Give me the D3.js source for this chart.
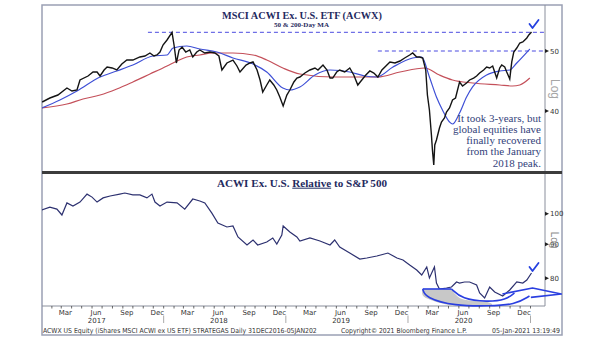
<!DOCTYPE html>
<html><head><meta charset="utf-8">
<script src="https://cdn.jsdelivr.net/npm/d3@7"></script>
<style>
html,body{margin:0;padding:0;background:#fff;}
svg{display:block;}
</style></head>
<body>
<svg id="chart" width="605" height="341"></svg>
<script>
// ACWX price (closes, sampled)
const acwxDates = ["2017-01-03","2017-01-26","2017-02-19","2017-03-18","2017-04-02","2017-04-17","2017-04-26","2017-05-20","2017-06-04","2017-06-16","2017-06-25","2017-07-07","2017-07-16","2017-07-31","2017-08-14","2017-08-29","2017-09-13","2017-10-01","2017-10-22","2017-11-06","2017-11-21","2017-12-03","2017-12-12","2017-12-21","2017-12-30","2018-01-11","2018-01-26","2018-02-01","2018-02-08","2018-02-16","2018-02-25","2018-03-08","2018-03-20","2018-03-29","2018-04-10","2018-04-19","2018-05-04","2018-05-19","2018-06-03","2018-06-15","2018-06-24","2018-07-09","2018-07-27","2018-08-08","2018-08-17","2018-09-04","2018-09-16","2018-09-25","2018-10-07","2018-10-16","2018-10-24","2018-11-05","2018-11-14","2018-11-26","2018-12-05","2018-12-14","2018-12-24","2019-01-04","2019-01-13","2019-01-25","2019-02-03","2019-02-12","2019-02-27","2019-03-14","2019-03-29","2019-04-07","2019-04-22","2019-05-04","2019-05-13","2019-05-21","2019-06-02","2019-06-11","2019-06-26","2019-07-11","2019-07-23","2019-08-04","2019-08-16","2019-08-28","2019-09-09","2019-09-21","2019-10-03","2019-10-15","2019-10-27","2019-11-08","2019-11-23","2019-12-08","2019-12-22","2020-01-06","2020-01-15","2020-01-27","2020-02-05","2020-02-14","2020-02-23","2020-02-28","2020-03-05","2020-03-11","2020-03-14","2020-03-18","2020-03-21","2020-03-26","2020-04-04","2020-04-10","2020-04-19","2020-04-25","2020-05-04","2020-05-13","2020-05-22","2020-06-03","2020-06-12","2020-06-24","2020-07-03","2020-07-15","2020-07-24","2020-08-02","2020-08-14","2020-08-23","2020-09-01","2020-09-10","2020-09-16","2020-09-22","2020-10-01","2020-10-07","2020-10-16","2020-10-22","2020-10-31","2020-11-06","2020-11-12","2020-11-21","2020-11-30","2020-12-09","2020-12-15","2020-12-21","2020-12-27","2021-01-04"];
const acwxClose = [41.36,41.98,42.45,43.57,43.09,43.25,44.89,45.56,46.24,46.24,45.56,46.59,47.11,46.94,46.59,47.64,48.35,48.35,48.90,49.08,49.63,49.08,49.26,49.81,51.13,52.09,53.6,51.13,47.82,50.19,50.75,49.81,50.19,48.90,49.81,50.19,49.63,49.81,49.63,49.08,46.59,47.82,48.35,47.29,46.24,47.46,47.82,48.00,46.59,44.89,42.93,44.06,44.89,44.06,43.25,42.14,40.75,42.45,43.25,44.56,45.22,45.39,46.07,46.59,46.94,46.59,47.46,46.59,45.22,45.22,46.24,46.59,46.24,46.94,45.73,44.06,44.89,45.73,46.42,46.07,45.39,46.59,47.29,48.00,47.82,48.17,48.72,49.26,49.63,48.90,48.90,48.72,46.59,42.45,40.15,36.59,34.60,32.72,35.25,35.91,37.55,38.40,38.97,39.85,40.45,41.67,41.98,44.56,43.90,44.39,44.89,45.22,45.56,46.07,46.59,47.11,46.94,47.29,46.24,45.22,46.94,47.46,47.11,46.24,45.06,48.00,49.81,50.56,51.51,51.70,52.09,52.48,53.07,53.66];

// 50-day moving average
const ma50Dates = ["2017-01-02","2017-02-25","2017-04-17","2017-06-25","2017-08-14","2017-10-01","2017-11-30","2018-01-11","2018-01-29","2018-03-11","2018-04-19","2018-06-09","2018-07-27","2018-09-25","2018-11-05","2018-12-23","2019-01-13","2019-02-12","2019-03-29","2019-05-13","2019-07-11","2019-08-25","2019-09-30","2019-11-17","2020-01-15","2020-02-11","2020-03-05","2020-03-26","2020-04-13","2020-05-04","2020-05-13","2020-06-03","2020-06-24","2020-07-12","2020-08-23","2020-10-01","2020-10-31","2020-11-21","2020-12-30"];
const ma50Values = [40.45,41.67,43.09,45.39,46.42,47.46,49.08,49.26,50.56,50.94,50.37,49.81,48.72,47.64,46.24,43.57,43.25,43.74,45.73,46.59,46.24,45.56,45.39,47.11,48.72,48.90,45.39,42.14,40.15,38.40,38.11,39.70,42.14,43.74,45.73,46.42,46.59,47.82,50.37];

// 200-day moving average
const ma200Dates = ["2017-01-02","2017-03-18","2017-05-05","2017-06-25","2017-08-14","2017-10-01","2017-11-21","2018-01-11","2018-02-10","2018-03-11","2018-04-19","2018-05-28","2018-07-27","2018-09-25","2018-11-05","2018-12-23","2019-02-12","2019-05-22","2019-08-31","2019-10-03","2019-12-08","2020-02-20","2020-04-04","2020-05-13","2020-07-12","2020-10-01","2020-11-08","2020-11-30","2020-12-30"];
const ma200Values = [40.45,41.05,41.82,42.45,43.41,44.56,45.90,47.29,48.17,48.90,49.26,49.63,49.63,49.26,48.35,46.94,45.90,45.39,45.39,45.39,46.24,46.94,45.73,44.89,44.39,44.06,43.90,44.06,45.22];

// ACWX relative to S&P 500
const relDates = ["2017-01-02","2017-01-26","2017-02-16","2017-03-03","2017-03-18","2017-04-05","2017-04-26","2017-05-17","2017-06-01","2017-06-16","2017-07-04","2017-07-25","2017-08-23","2017-09-07","2017-10-01","2017-10-22","2017-11-12","2017-11-27","2017-12-06","2017-12-21","2018-01-11","2018-02-10","2018-03-05","2018-03-29","2018-04-19","2018-05-04","2018-05-25","2018-06-12","2018-07-09","2018-07-27","2018-08-11","2018-09-07","2018-09-25","2018-10-09","2018-11-05","2018-11-23","2018-12-05","2018-12-20","2018-12-24","2019-01-13","2019-02-03","2019-02-12","2019-03-14","2019-04-13","2019-05-13","2019-05-27","2019-06-11","2019-07-11","2019-08-10","2019-08-31","2019-09-30","2019-11-02","2019-11-29","2019-12-17","2020-01-06","2020-01-27","2020-02-11","2020-02-26","2020-03-05","2020-03-20","2020-03-26","2020-04-04","2020-04-25","2020-05-10","2020-05-25","2020-06-03","2020-06-18","2020-07-03","2020-07-24","2020-08-02","2020-08-17","2020-09-01","2020-09-16","2020-10-10","2020-10-31","2020-11-21","2020-12-09","2020-12-21","2021-01-04"];
const relValues = [101.3,102.3,101.6,99.55,103.8,102.7,104.1,107.0,105.9,104.1,105.6,106.3,107.0,107.4,106.7,106.7,105.6,107.0,104.1,102.7,104.1,103.8,101.6,105.2,104.5,103.8,100.2,96.84,95.51,95.84,92.27,89.75,91.32,89.75,90.69,91.95,90.06,92.91,95.84,93.87,92.27,91.00,91.95,91.00,89.75,91.32,89.14,87.30,85.51,85.81,86.40,87.30,85.81,85.22,83.76,82.33,80.92,83.19,80.09,83.19,78.71,77.10,77.37,77.63,78.99,78.71,78.99,78.99,78.17,76.04,74.74,77.63,76.31,75.26,76.84,78.99,78.71,79.53,81.48];

// axis labels
const monthLabels = ["Mar","Jun","Sep","Dec"];
const labelMonths = [2, 5, 8, 11];
const yearLabels = ["2017","2018","2019","2020"];
const topTicks = [40, 50];
const bottomTicks = [80, 90, 100];

// reference levels
const peak2018 = 53.6;
const peak2018From = "2017-11-15";
const level2020 = 50;
const level2020From = "2019-10-03";

const noteLines = ["It took 3-years, but", "global equities have", "finally recovered", "from the January", "2018 peak."];

// curved arrow, in [date, relative value]
const swoopOuter = [["2020-02-14",77.1],["2020-02-22",74.8],["2020-05-20",72.7],["2020-08-31",72.7],["2020-11-15",73.0],["2020-12-29",75.26]];
const swoopInner = [["2020-05-10",77.1],["2020-06-10",74.5],["2020-08-25",73.7],["2020-10-20",74.3],["2020-11-14",76.04]];
const swoopHead = [["2020-10-09",75.78],["2021-01-07",77.37],["2021-04-03",75.78],["2021-01-02",74.9]];

const parse = d3.timeParse("%Y-%m-%d");
const svg = d3.select("#chart");

const FL = 42, FR = 562, FT = 5, FB = 335, AXX = 545;
const topPanel = {t: 5, b: 171};
const botPanel = {t: 174, b: 306};

const x = d3.scaleTime()
  .domain([new Date(2017, 0, 1), new Date(2021, 0, 1)])
  .range([41.5, 530.5]);
const yTop = d3.scaleLog().domain([40, 50]).range([111, 51]);
const yBot = d3.scaleLog().domain([80, 100]).range([278.3, 213.7]);

const navy = "#1f2a60";
const defs = svg.append("defs");
defs.append("clipPath").attr("id", "clipTop").append("rect")
  .attr("x", FL).attr("y", topPanel.t).attr("width", AXX - FL).attr("height", topPanel.b - topPanel.t);
defs.append("clipPath").attr("id", "clipBot").append("rect")
  .attr("x", FL).attr("y", botPanel.t).attr("width", AXX - FL).attr("height", botPanel.b - botPanel.t);

// size a text element's font so that it spans the given width
function fitWidth(sel, width) {
  const fs = +sel.attr("font-size");
  const w = sel.node().getComputedTextLength();
  if (w > 0) sel.attr("font-size", (fs * width / w).toFixed(2));
  return sel;
}

// ---- frame
svg.append("rect").attr("x", FL).attr("y", FT).attr("width", FR - FL).attr("height", FB - FT)
  .attr("fill", "#fff").attr("stroke", "#9aa0b4").attr("stroke-width", 1.5);
svg.append("line").attr("x1", AXX).attr("x2", AXX).attr("y1", FT).attr("y2", botPanel.b)
  .attr("stroke", "#8a8f9c").attr("stroke-width", 1);
svg.append("line").attr("x1", FL).attr("x2", AXX).attr("y1", botPanel.b).attr("y2", botPanel.b)
  .attr("stroke", "#8a8f9c").attr("stroke-width", 1);

// ---- top panel
const gTop = svg.append("g").attr("clip-path", "url(#clipTop)");
const line = (ys) => d3.line().x(d => x(d[0])).y(d => ys(d[1]));
const zip = (ds, vs) => ds.map((d, i) => [parse(d), vs[i]]);

gTop.append("line")
  .attr("x1", x(parse(peak2018From))).attr("x2", AXX)
  .attr("y1", yTop(peak2018)).attr("y2", yTop(peak2018))
  .attr("stroke", "#4b4be0").attr("stroke-width", 1).attr("stroke-dasharray", "4,3");
gTop.append("line")
  .attr("x1", x(parse(level2020From))).attr("x2", AXX)
  .attr("y1", yTop(level2020)).attr("y2", yTop(level2020))
  .attr("stroke", "#4b4be0").attr("stroke-width", 1).attr("stroke-dasharray", "4,3");

gTop.append("path").datum(zip(ma200Dates, ma200Values))
  .attr("d", line(yTop).curve(d3.curveMonotoneX))
  .attr("fill", "none").attr("stroke", "#c4505a").attr("stroke-width", 1.2);
gTop.append("path").datum(zip(ma50Dates, ma50Values))
  .attr("d", line(yTop).curve(d3.curveMonotoneX))
  .attr("fill", "none").attr("stroke", "#3e4fd6").attr("stroke-width", 1.2);
gTop.append("path").datum(zip(acwxDates, acwxClose))
  .attr("d", line(yTop))
  .attr("fill", "none").attr("stroke", "#141414").attr("stroke-width", 1.4);

// right axis
function rightAxis(ys, ticks) {
  const g = svg.append("g");
  ticks.forEach(t => {
    const yy = ys(t);
    g.append("path").attr("d", `M${AXX},${yy - 2}L${AXX + 4},${yy}L${AXX},${yy + 2}Z`).attr("fill", "#222");
    g.append("text").attr("x", AXX + 5).attr("y", yy + 2.5).text(t)
      .attr("font-family", "DejaVu Sans").attr("font-size", 7).attr("fill", "#333");
  });
  return g;
}
rightAxis(yTop, topTicks);
svg.append("text").attr("transform", "translate(551,89) rotate(90)")
  .attr("text-anchor", "middle").attr("font-family", "Liberation Sans")
  .attr("font-size", 12).attr("fill", "#a6a6a6").text("Log");

// titles
fitWidth(svg.append("text").attr("x", 302).attr("y", 18.5).attr("text-anchor", "middle")
  .attr("font-family", "Liberation Serif").attr("font-weight", "bold").attr("font-size", 12.5)
  .attr("fill", navy).text("MSCI ACWI Ex. U.S. ETF (ACWX)"), 160);
fitWidth(svg.append("text").attr("x", 301.5).attr("y", 26.5).attr("text-anchor", "middle")
  .attr("font-family", "Liberation Serif").attr("font-weight", "bold").attr("font-size", 7)
  .attr("fill", navy).text("50 & 200-Day MA"), 55);

// note
noteLines.forEach((s, i) => {
  svg.append("text").attr("x", 541).attr("y", 121.5 + i * 11.3).attr("text-anchor", "end")
    .attr("font-family", "Liberation Serif").attr("font-size", 11).attr("fill", "#33427a")
    .text(s);
});

// check marks at the latest readings
function check(cx, cy) {
  svg.append("path").attr("d", `M${cx - 5},${cy}L${cx - 2},${cy + 4}L${cx + 4},${cy - 4}`)
    .attr("fill", "none").attr("stroke", "#2440e0").attr("stroke-width", 1.8)
    .attr("stroke-linejoin", "round").attr("stroke-linecap", "round");
}
const lastTop = parse(acwxDates[acwxDates.length - 1]);
check(x(lastTop) + 3, yTop(acwxClose[acwxClose.length - 1]) - 8);
check(x(lastTop) + 3, yBot(relValues[relValues.length - 1]) - 6);

// separator bar
svg.append("rect").attr("x", FL).attr("y", 171).attr("width", FR - FL).attr("height", 3).attr("fill", "#3c3c3c");

// ---- bottom panel
const gBot = svg.append("g").attr("clip-path", "url(#clipBot)");
gBot.append("path").datum(zip(relDates, relValues))
  .attr("d", line(yBot))
  .attr("fill", "none").attr("stroke", "#2d3170").attr("stroke-width", 1.2);

rightAxis(yBot, bottomTicks);
svg.append("text").attr("transform", "translate(551,240) rotate(90)")
  .attr("text-anchor", "middle").attr("font-family", "Liberation Sans")
  .attr("font-size", 10).attr("fill", "#8c8c8c").text("Log");

const t2 = svg.append("text").attr("x", 302).attr("y", 186.5).attr("text-anchor", "middle")
  .attr("font-family", "Liberation Serif").attr("font-weight", "bold").attr("font-size", 12.5)
  .attr("fill", navy);
t2.append("tspan").text("ACWI Ex. U.S. ");
t2.append("tspan").text("Relative");
t2.append("tspan").text(" to S&P 500");
fitWidth(t2, 170);
{
  const node = t2.node();
  const s = node.getExtentOfChar(14), e = node.getExtentOfChar(21);
  svg.append("line").attr("x1", s.x).attr("x2", e.x + e.width).attr("y1", 188.2).attr("y2", 188.2)
    .attr("stroke", navy).attr("stroke-width", 1);
}

// curved arrow annotation
const P = d => [x(parse(d[0])), yBot(d[1])];
{
  const o = swoopOuter.map(P), n = swoopInner.map(P), h = swoopHead.map(P);
  const curve = d3.line().curve(d3.curveBasis);
  svg.append("path").attr("d", d3.line().curve(d3.curveCardinal)([n[0], n[1], n[2], o[3], o[2], o[1], o[0]]) + "Z")
    .attr("fill", "#c8c8c8").attr("stroke", "none");
  svg.append("path").attr("d", `M${o[0]}L${n[0]}`).attr("stroke", "#2a3fe0").attr("stroke-width", 1.6);
  svg.append("path").attr("d", curve(o)).attr("fill", "none").attr("stroke", "#2a3fe0").attr("stroke-width", 1.6);
  svg.append("path").attr("d", curve(n)).attr("fill", "none").attr("stroke", "#2a3fe0").attr("stroke-width", 1.6);
  svg.append("path").attr("d", `M${h[0]}L${h[1]}L${h[2]}L${h[3]}`).attr("fill", "none")
    .attr("stroke", "#2a3fe0").attr("stroke-width", 1.6).attr("stroke-linejoin", "round");
}

// ---- time axis
const gx = svg.append("g");
const months = d3.timeMonth.range(new Date(2017, 1, 1), new Date(2021, 1, 1));
months.forEach(m => {
  gx.append("line").attr("x1", x(m)).attr("x2", x(m)).attr("y1", 306).attr("y2", 308.5)
    .attr("stroke", "#444").attr("stroke-width", 0.8);
});
yearLabels.forEach((yl) => {
  const yr = +yl;
  labelMonths.forEach((mo, mi) => {
    gx.append("text").attr("x", x(new Date(yr, mo, 1)) + 4).attr("y", 314.5)
      .attr("text-anchor", "middle").attr("font-family", "DejaVu Sans").attr("font-size", 7)
      .attr("fill", "#333").text(monthLabels[mi]);
  });
  gx.append("text").attr("x", x(new Date(yr, 5, 15))).attr("y", 322.5)
    .attr("text-anchor", "middle").attr("font-family", "DejaVu Sans").attr("font-size", 7)
    .attr("fill", "#333").text(yl);
  gx.append("line").attr("x1", x(new Date(yr + 1, 0, 1))).attr("x2", x(new Date(yr + 1, 0, 1)))
    .attr("y1", 315.5).attr("y2", 323).attr("stroke", "#aaa").attr("stroke-width", 1);
});

// footer
const foot = (s, xx, anchor, w) => fitWidth(svg.append("text").attr("x", xx).attr("y", 333)
  .attr("text-anchor", anchor).attr("font-family", "DejaVu Sans Condensed, DejaVu Sans").attr("font-size", 7.5)
  .attr("fill", "#333").text(s), w);
foot("ACWX US Equity (iShares MSCI ACWI ex US ETF) STRATEGAS  Daily 31DEC2016-05JAN202", 43, "start", 274);
foot("Copyright\u00A9 2021 Bloomberg Finance L.P.", 341, "start", 126);
foot("05-Jan-2021 13:19:49", 560, "end", 68);
</script>
</body></html>
